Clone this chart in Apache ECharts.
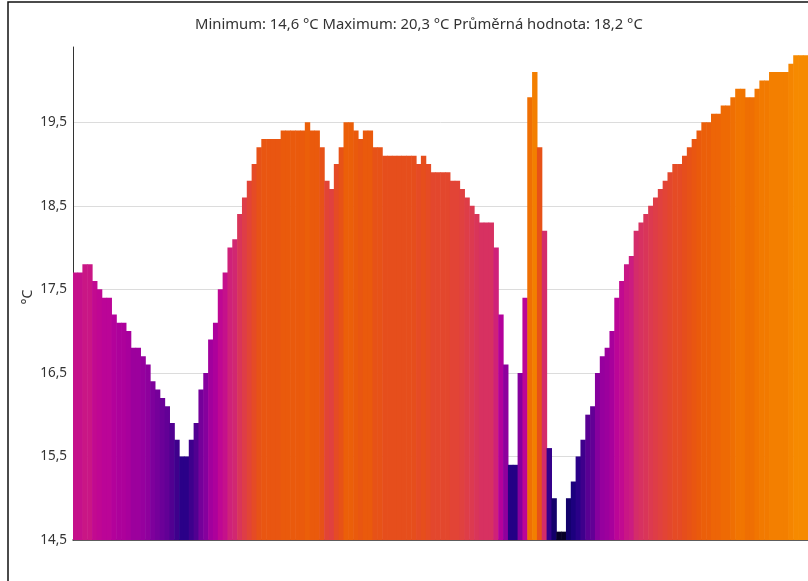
<!DOCTYPE html>
<html>
<head>
<meta charset="utf-8">
<script src="https://cdn.jsdelivr.net/npm/echarts@6/dist/echarts.min.js"></script>
<style>html,body{margin:0;padding:0;background:#fff;}#c{width:808px;height:581px;}</style>
</head>
<body>
<div id="c"></div>
<script>
var titleText = 'Minimum: 14,6 °C Maximum: 20,3 °C Průměrná hodnota: 18,2 °C';
var yName = '°C';
var yTicks = [14.5, 15.5, 16.5, 17.5, 18.5, 19.5];
var values = [
  17.7,17.7,17.8,17.8,17.6,17.5,17.4,17.4,17.2,17.1,
  17.1,17.0,16.8,16.8,16.7,16.6,16.4,16.3,16.2,16.1,
  15.9,15.7,15.5,15.5,15.7,15.9,16.3,16.5,16.9,17.1,
  17.5,17.7,18.0,18.1,18.4,18.6,18.8,19.0,19.2,19.3,
  19.3,19.3,19.3,19.4,19.4,19.4,19.4,19.4,19.5,19.4,
  19.4,19.2,18.8,18.7,19.0,19.2,19.5,19.5,19.4,19.3,
  19.4,19.4,19.2,19.2,19.1,19.1,19.1,19.1,19.1,19.1,
  19.1,19.0,19.1,19.0,18.9,18.9,18.9,18.9,18.8,18.8,
  18.7,18.6,18.5,18.4,18.3,18.3,18.3,18.0,17.2,16.6,
  15.4,15.4,16.5,17.4,19.8,20.1,19.2,18.2,15.6,15.0,
  14.6,14.6,15.0,15.2,15.5,15.7,16.0,16.1,16.5,16.7,
  16.8,17.0,17.4,17.6,17.8,17.9,18.2,18.3,18.4,18.5,
  18.6,18.7,18.8,18.9,19.0,19.0,19.1,19.2,19.3,19.4,
  19.5,19.5,19.6,19.6,19.7,19.7,19.8,19.9,19.9,19.8,
  19.8,19.9,20.0,20.0,20.1,20.1,20.1,20.1,20.2,20.3,
  20.3,20.3
];
var categories = values.map(function (v, i) { return String(i + 1); });
// colour stops, evenly spaced every 0.3 °C from 14.6 to 20.3
var palette = ['#080028','#0e0060','#1c007e','#2a0088','#48008e','#620096','#7e009c','#96009e','#a8009c','#b8029a',
               '#c20a90','#cc1c80','#d42c6a','#dc3a50','#e24436','#e64e1c','#ea5a0c','#ee6a04','#f27a00','#f68a00'];

var chart = echarts.init(document.getElementById('c'), null, {renderer: 'canvas'});
chart.setOption({
  animation: false,
  backgroundColor: '#fff',
  title: {
    text: titleText, left: 190, top: 12,
    textStyle: {fontFamily: 'Noto Sans', fontSize: 14.8, fontWeight: 'normal', color: '#333'}
  },
  graphic: [{
    type: 'rect', silent: true, z: 100,
    shape: {x: 8, y: 2, width: 900, height: 700},
    style: {fill: 'none', stroke: '#111', lineWidth: 1.5}
  }, {
    type: 'text', silent: true, x: 28, y: 297, rotation: Math.PI / 2,
    style: {text: yName, fontFamily: 'Noto Sans', fontSize: 14, fill: '#333', align: 'center', verticalAlign: 'middle'}
  }],
  grid: {left: 73, right: 0, top: 47, bottom: 41},
  visualMap: {
    show: false, type: 'continuous', min: 14.6, max: 20.3, dimension: 1,
    inRange: {color: palette}
  },
  xAxis: {
    type: 'category', data: categories,
    axisLine: {show: true, lineStyle: {color: '#333', width: 1.5}},
    axisTick: {show: false}, axisLabel: {show: false}, splitLine: {show: false}
  },
  yAxis: {
    type: 'value', min: 14.5, max: 20.4, interval: 1,
    axisLine: {show: true, lineStyle: {color: '#333', width: 1}},
    axisTick: {show: false},
    axisLabel: {
      fontFamily: 'Noto Sans', fontSize: 13.5, color: '#333', margin: 6, showMaxLabel: false,
      formatter: function (v) { return yTicks.indexOf(Math.round(v * 10) / 10) >= 0 ? v.toFixed(1).replace('.', ',') : ''; }
    },
    splitLine: {show: true, lineStyle: {color: ['#dcdcdc','#dcdcdc','#dcdcdc','#dcdcdc','#dcdcdc','#dcdcdc','rgba(0,0,0,0)'], width: 1}}
  },
  series: [{
    type: 'bar', data: values, barWidth: 5.4, barGap: '-100%',
    itemStyle: {borderWidth: 0}
  }]
});
</script>
</body>
</html>
